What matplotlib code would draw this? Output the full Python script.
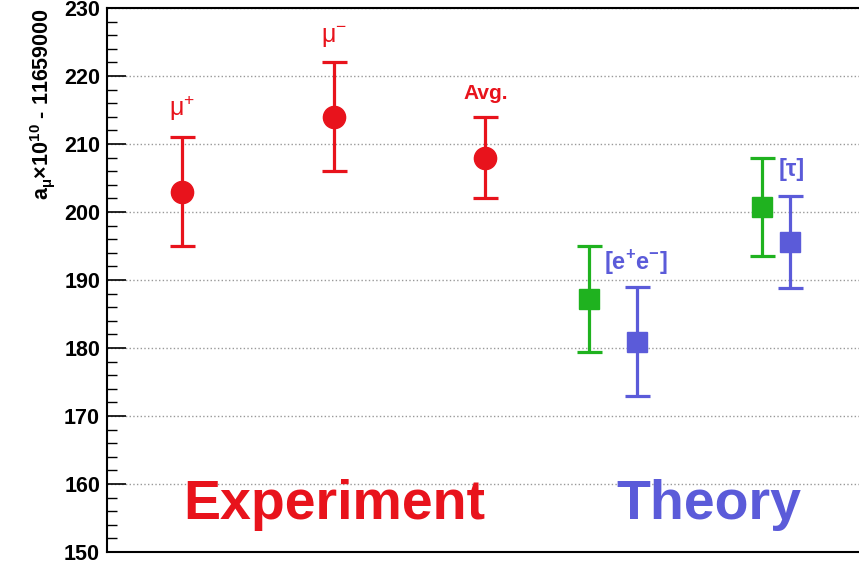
import matplotlib.pyplot as plt
from matplotlib.ticker import MultipleLocator

plt.rcParams['font.family'] = ['Liberation Sans', 'DejaVu Sans']
plt.rcParams['mathtext.fontset'] = 'custom'
plt.rcParams['mathtext.rm'] = 'Liberation Sans'
plt.rcParams['mathtext.bf'] = 'Liberation Sans:bold'

# experiment points
exp_x = [1.0, 3.02, 5.03]
exp_y = [203.0, 214.0, 208.0]
exp_err = [8.0, 8.0, 6.0]
exp_labels = [r'μ$^{\mathregular{+}}$', r'μ$^{\mathregular{-}}$', 'Avg.']

# theory points: e+e- and tau, two estimates each
th_green_x = [6.4, 8.71]
th_green_y = [187.2, 200.8]
th_green_err = [7.8, 7.2]
th_blue_x = [7.05, 9.08]
th_blue_y = [180.9, 195.6]
th_blue_err = [8.0, 6.8]

red = '#e8131c'
green = '#1fb21f'
blue = '#5b5bd9'

fig = plt.figure(figsize=(8.59, 5.71), dpi=100)
ax = fig.add_axes([107/859, 19/571, 760/859, 544/571])

ax.errorbar(exp_x, exp_y, yerr=exp_err, fmt='o', color=red, ms=16,
            elinewidth=2.3, capsize=9, capthick=2.3, zorder=3)
ax.errorbar(th_green_x, th_green_y, yerr=th_green_err, fmt='s', color=green, ms=14.5,
            elinewidth=2.3, capsize=9, capthick=2.3, zorder=3)
ax.errorbar(th_blue_x, th_blue_y, yerr=th_blue_err, fmt='s', color=blue, ms=14.5,
            elinewidth=2.3, capsize=9, capthick=2.3, zorder=3)

# labels above points
ax.text(exp_x[0], 215.2, exp_labels[0], color=red, fontsize=18, ha='center', va='center')
ax.text(exp_x[1], 225.6, exp_labels[1], color=red, fontsize=18, ha='center', va='center')
ax.text(exp_x[2], 217.4, exp_labels[2], color=red, fontsize=15, fontweight='bold',
        ha='center', va='center')
ax.text(7.03, 192.5, r'[e$^{\mathbf{+}}$e$^{\mathbf{-}}$]', color=blue, fontsize=17,
        fontweight='bold', ha='center', va='center')
ax.text(9.1, 206.3, '[τ]', color=blue, fontsize=17, fontweight='bold',
        ha='center', va='center')

ax.text(3.02, 156.9, 'Experiment', color=red, fontsize=40, fontweight='bold',
        ha='center', va='center')
ax.text(8.0, 156.9, 'Theory', color=blue, fontsize=40, fontweight='bold',
        ha='center', va='center')

ax.set_xlim(0, 10.1)
ax.set_ylim(150, 230)
ax.yaxis.set_major_locator(MultipleLocator(10))
ax.yaxis.set_minor_locator(MultipleLocator(2))
ax.set_xticks([])
ax.tick_params(axis='y', which='major', direction='in', length=14, width=1.2,
               labelsize=15.5, pad=5)
ax.tick_params(axis='y', which='minor', direction='in', length=7, width=1.0)
for lab in ax.get_yticklabels():
    lab.set_fontweight('bold')

ax.grid(axis='y', which='major', linestyle=':', color='#999999', linewidth=1.0)
for s in ['left', 'bottom', 'top']:
    ax.spines[s].set_linewidth(1.5)
ax.spines['right'].set_visible(False)

ax.set_ylabel(r'a$_{\mathbf{\mu}}$$\mathregular{\times}$10$^{\mathbf{10}}$ - 11659000',
              fontsize=15.5, fontweight='bold', loc='top', labelpad=5)

fig.savefig('out.png', dpi=100)
